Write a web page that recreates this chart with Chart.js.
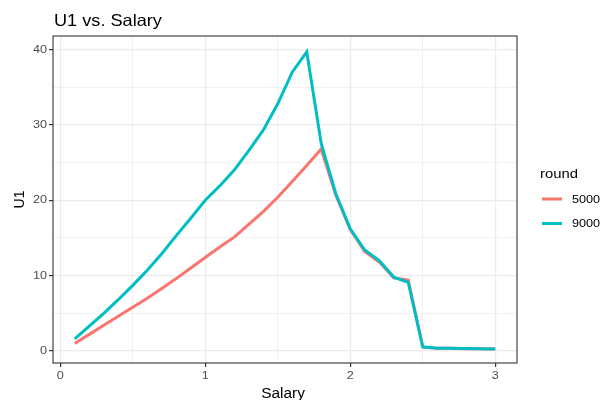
<!DOCTYPE html>
<html>
<head>
<meta charset="utf-8">
<script src="https://cdn.jsdelivr.net/npm/chart.js@4.4.1/dist/chart.umd.min.js"></script>
<style>
  html, body { margin: 0; padding: 0; background: #fff; }
  #wrap { width: 600px; height: 400px; position: relative; }
</style>
</head>
<body>
<div id="wrap"><canvas id="chart"></canvas></div>
<script>
const salary = [0.1, 0.2, 0.3, 0.4, 0.5, 0.6, 0.7, 0.8, 0.9, 1.0,
                1.1, 1.2, 1.3, 1.4, 1.5, 1.6, 1.7, 1.8, 1.9, 2.0,
                2.1, 2.2, 2.3, 2.4, 2.5, 2.6, 2.7, 2.8, 2.9, 3.0];
const u1Round5000 = [1.0, 2.2, 3.4, 4.6, 5.8, 7.0, 8.3, 9.6, 11.0, 12.4,
                     13.8, 15.1, 16.8, 18.5, 20.4, 22.5, 24.6, 26.8, 20.7, 16.1,
                     13.2, 11.8, 9.7, 9.4, 0.5, 0.35, 0.35, 0.3, 0.3, 0.25];
const u1Round9000 = [1.6, 3.3, 5.0, 6.8, 8.7, 10.7, 12.9, 15.3, 17.6, 20.0,
                     21.9, 24.0, 26.6, 29.3, 32.8, 37.0, 39.7, 27.5, 20.9, 16.2,
                     13.4, 12.0, 9.8, 9.1, 0.55, 0.35, 0.35, 0.33, 0.3, 0.25];
const roundLabels = ['5000', '9000'];
const roundColors = ['#F8766D', '#00BFC4'];
const xTicks = [0, 1, 2, 3];
const xMinor = [0.5, 1.5, 2.5];
const yTicks = [0, 10, 20, 30, 40];
const yMinor = [5, 15, 25, 35];

const FONT = '"Liberation Sans", Arial, sans-serif';
const STRETCH = 1.1; // the reference text is a bit wide for its height

const toPoints = ys => salary.map((x, i) => ({ x: x, y: ys[i] }));
const isMajor = (v, majors) => majors.some(m => Math.abs(m - v) < 1e-9);

// draw text a little wider than the font, like the reference
function wideText(ctx, txt, x, y, align, rotate) {
    ctx.save();
    ctx.translate(x, y);
    ctx.scale(STRETCH, 1);
    if (rotate) ctx.rotate(-Math.PI / 2);
    ctx.textAlign = align;
    ctx.fillText(txt, 0, 0);
    ctx.restore();
}

// ggplot-ish frame, labels, title and legend
const ggExtras = {
    id: 'ggExtras',
    afterDraw(chart) {
        const { ctx, chartArea: a, scales } = chart;
        ctx.save();
        ctx.strokeStyle = '#333333';
        ctx.lineWidth = 1.1;
        ctx.strokeRect(a.left, a.top, a.right - a.left, a.bottom - a.top);

        // tick labels
        ctx.fillStyle = '#4D4D4D';
        ctx.font = '11.5px ' + FONT;
        ctx.textBaseline = 'middle';
        yTicks.forEach(v => wideText(ctx, String(v), 47, scales.y.getPixelForValue(v), 'right'));
        xTicks.forEach(v => wideText(ctx, String(v), scales.x.getPixelForValue(v), 376, 'center'));

        // axis titles
        ctx.fillStyle = '#000';
        ctx.font = '14px ' + FONT;
        ctx.textBaseline = 'alphabetic';
        wideText(ctx, 'Salary', 283, 398, 'center');
        wideText(ctx, 'U1', 24, (a.top + a.bottom) / 2, 'center', true);

        // title
        ctx.font = '16.5px ' + FONT;
        wideText(ctx, 'U1 vs. Salary', 54, 25.5, 'left');

        // legend
        ctx.font = '13.5px ' + FONT;
        wideText(ctx, 'round', 540, 178, 'left');
        ctx.font = '11.5px ' + FONT;
        ctx.textBaseline = 'middle';
        roundLabels.forEach((lab, i) => {
            const y = 199 + i * 24.5;
            ctx.strokeStyle = roundColors[i];
            ctx.lineWidth = 3;
            ctx.beginPath();
            ctx.moveTo(542, y);
            ctx.lineTo(562, y);
            ctx.stroke();
            ctx.fillStyle = '#000';
            wideText(ctx, lab, 572, y + 0.5, 'left');
        });
        ctx.restore();
    }
};

const gridOpts = majors => ({
    color: c => isMajor(c.tick.value, majors) ? '#EBEBEB' : '#E8E8E8',
    lineWidth: c => isMajor(c.tick.value, majors) ? 1.2 : 0.6,
    tickColor: c => isMajor(c.tick.value, majors) ? '#333333' : 'rgba(0,0,0,0)',
    tickLength: 4,
    drawTicks: true
});

new Chart(document.getElementById('chart'), {
    type: 'scatter',
    data: {
        datasets: [
            {
                label: roundLabels[0],
                data: toPoints(u1Round5000),
                showLine: true,
                borderColor: roundColors[0],
                backgroundColor: roundColors[0],
                borderWidth: 3,
                pointRadius: 0,
                tension: 0,
                order: 2
            },
            {
                label: roundLabels[1],
                data: toPoints(u1Round9000),
                showLine: true,
                borderColor: roundColors[1],
                backgroundColor: roundColors[1],
                borderWidth: 3,
                pointRadius: 0,
                tension: 0,
                order: 1
            }
        ]
    },
    options: {
        responsive: true,
        maintainAspectRatio: false,
        animation: false,
        layout: { padding: { top: 36, right: 83, left: 0, bottom: 0 } },
        plugins: {
            legend: { display: false },
            tooltip: { enabled: false }
        },
        scales: {
            x: {
                type: 'linear',
                min: -0.05,
                max: 3.15,
                afterBuildTicks: s => {
                    s.ticks = xTicks.concat(xMinor).sort((p, q) => p - q).map(v => ({ value: v }));
                },
                afterFit: s => { s.height = 37; },
                ticks: { display: false },
                grid: gridOpts(xTicks),
                border: { display: false },
                title: { display: false }
            },
            y: {
                type: 'linear',
                min: -1.6,
                max: 41.8,
                afterBuildTicks: s => {
                    s.ticks = yTicks.concat(yMinor).sort((p, q) => p - q).map(v => ({ value: v }));
                },
                afterFit: s => { s.width = 53; },
                ticks: { display: false },
                grid: gridOpts(yTicks),
                border: { display: false },
                title: { display: false }
            }
        }
    },
    plugins: [ggExtras]
});
</script>
</body>
</html>
